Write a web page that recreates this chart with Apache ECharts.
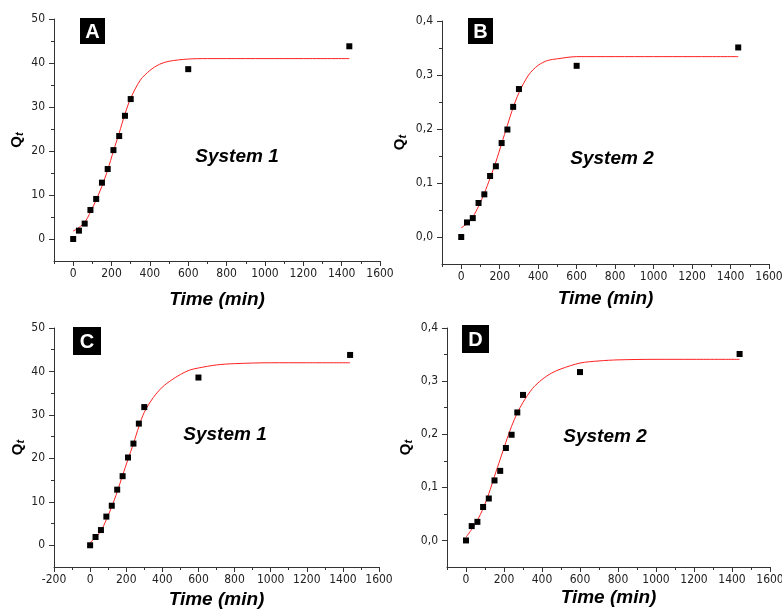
<!DOCTYPE html>
<html>
<head>
<meta charset="utf-8">
<script src="https://cdn.jsdelivr.net/npm/echarts@6/dist/echarts.min.js"></script>
<style>
  html, body { margin: 0; padding: 0; background: #fff; }
  #chart { width: 782px; height: 610px; }
</style>
</head>
<body>
<div id="chart"></div>
<script>
// measured points, both systems sampled at the same times (min)
const obsTime = [0, 30, 60, 90, 120, 150, 180, 210, 240, 270, 300, 600, 1440];
const obsSys1 = [0, 1.9, 3.5, 6.6, 9.1, 12.8, 15.9, 20.2, 23.4, 28.0, 31.8, 38.6, 43.8];
const obsSys2 = [0, 0.027, 0.035, 0.063, 0.079, 0.113, 0.131, 0.174, 0.199, 0.241, 0.274, 0.317, 0.351];

// fitted curves
const fitTimeA = [0, 30, 60, 90, 120, 150, 180, 210, 240, 270, 300, 350, 400, 450, 500, 600, 700, 800, 1000, 1200, 1440];
const fitA = [1.8, 2.6, 3.8, 6.1, 8.9, 12.0, 15.7, 20.0, 24.1, 28.4, 32.0, 36.1, 38.3, 39.7, 40.4, 40.9, 41.0, 41.0, 41.0, 41.0, 41.0];
const fitTimeB = [0, 30, 60, 90, 120, 150, 180, 210, 240, 270, 300, 350, 400, 450, 500, 600, 800, 1000, 1200, 1440];
const fitB = [0.017, 0.025, 0.037, 0.057, 0.081, 0.109, 0.139, 0.173, 0.207, 0.240, 0.267, 0.300, 0.318, 0.327, 0.330, 0.334, 0.334, 0.334, 0.334, 0.334];
const fitTimeC = [0, 30, 60, 90, 120, 150, 180, 210, 240, 270, 300, 350, 400, 450, 500, 550, 600, 700, 800, 1000, 1200, 1440];
const fitC = [0.6, 1.8, 3.3, 5.9, 8.9, 12.3, 16.1, 19.8, 23.4, 27.3, 30.6, 34.0, 36.4, 38.0, 39.3, 40.3, 40.8, 41.5, 41.8, 42.0, 42.0, 42.0];
const fitTimeD = [0, 30, 60, 90, 120, 150, 180, 210, 240, 270, 300, 350, 400, 450, 500, 600, 700, 800, 1000, 1200, 1440];
const fitD = [0.006, 0.021, 0.038, 0.060, 0.088, 0.121, 0.153, 0.185, 0.215, 0.240, 0.260, 0.286, 0.303, 0.315, 0.323, 0.334, 0.338, 0.340, 0.341, 0.341, 0.341];

// axis ticks
const xTicks = [0, 200, 400, 600, 800, 1000, 1200, 1400, 1600];
const xTicksC = [-200, 0, 200, 400, 600, 800, 1000, 1200, 1400, 1600];
const xMinor = [-100, 100, 300, 500, 700, 900, 1100, 1300, 1500];
const yTicks1 = [0, 10, 20, 30, 40, 50];
const yMinor1 = [5, 15, 25, 35, 45];
const yTicks2 = [0, 0.1, 0.2, 0.3, 0.4];
const yMinor2 = [0.05, 0.15, 0.25, 0.35];

const panelLetters = ["A", "B", "C", "D"];
const systemNames = ["System 1", "System 2", "System 1", "System 2"];

const tickFont = '"Liberation Sans Narrow", "DejaVu Sans Condensed", "Liberation Sans", sans-serif';
const boldFont = '"Liberation Sans", Arial, sans-serif';
const axisColor = "#333";
const plain = (v) => String(v);
const comma = (v) => v.toFixed(1).replace(".", ",");

const panels = [
  { grid: { left: 54, top: 19, width: 326, height: 242 }, xMin: -100, xLabels: xTicks,
    yMin: -5, yMax: 50, yLabels: yTicks1, yMinorTicks: yMinor1, fmt: plain,
    obs: obsSys1, fitT: fitTimeA, fit: fitA, xGap: 29, yGap: 29, box: [80, 18, 25, 26], sys: [237, 157] },
  { grid: { left: 442, top: 21, width: 327, height: 243 }, xMin: -100, xLabels: xTicks,
    yMin: -0.05, yMax: 0.4, yLabels: yTicks2, yMinorTicks: yMinor2, fmt: comma,
    obs: obsSys2, fitT: fitTimeB, fit: fitB, xGap: 25, yGap: 34, box: [468, 18, 25, 26], sys: [612, 159] },
  { grid: { left: 54, top: 328, width: 325, height: 239 }, xMin: -200, xLabels: xTicksC,
    yMin: -5, yMax: 50, yLabels: yTicks1, yMinorTicks: yMinor1, fmt: plain,
    obs: obsSys1, fitT: fitTimeC, fit: fitC, xGap: 23, yGap: 28, box: [73, 327, 28, 28], sys: [225, 435] },
  { grid: { left: 447, top: 328, width: 323, height: 239 }, xMin: -100, xLabels: xTicks,
    yMin: -0.05, yMax: 0.4, yLabels: yTicks2, yMinorTicks: yMinor2, fmt: comma,
    obs: obsSys2, fitT: fitTimeD, fit: fitD, xGap: 21, yGap: 33, box: [462, 325, 27, 28], sys: [605, 437] }
];

const grid = [], xAxis = [], yAxis = [], series = [], graphic = [];

panels.forEach((p, i) => {
  grid.push(Object.assign({ outerBoundsMode: "none", containLabel: false }, p.grid));

  // main x axis: line, labelled ticks, name
  xAxis.push({
    type: "value", gridIndex: i, min: p.xMin, max: 1600, position: "bottom",
    axisLine: { onZero: false, lineStyle: { color: axisColor, width: 1 } },
    axisTick: { show: true, length: 5, customValues: p.xLabels, lineStyle: { color: axisColor } },
    axisLabel: { customValues: p.xLabels, margin: 7, color: "#222", fontSize: 12, fontFamily: tickFont, formatter: plain },
    splitLine: { show: false },
    name: "Time (min)", nameLocation: "middle", nameGap: p.xGap, nameMoveOverlap: false,
    nameTextStyle: { fontFamily: boldFont, fontSize: 19, fontWeight: "bold", fontStyle: "italic", color: "#000" }
  });
  // minor x ticks
  xAxis.push({
    type: "value", gridIndex: i, min: p.xMin, max: 1600, position: "bottom",
    axisLine: { show: false, onZero: false },
    axisTick: { show: true, length: 3, customValues: xMinor, lineStyle: { color: axisColor } },
    axisLabel: { show: false }, splitLine: { show: false }
  });

  yAxis.push({
    type: "value", gridIndex: i, min: p.yMin, max: p.yMax, position: "left",
    axisLine: { show: true, onZero: false, lineStyle: { color: axisColor, width: 1 } },
    axisTick: { show: true, length: 5, customValues: p.yLabels, lineStyle: { color: axisColor } },
    axisLabel: { customValues: p.yLabels, margin: 9, color: "#222", fontSize: 12, fontFamily: tickFont, formatter: p.fmt },
    splitLine: { show: false },
    name: "{q|Q}{t|t}", nameLocation: "middle", nameGap: p.yGap, nameMoveOverlap: false,
    nameTextStyle: {
      color: "#000",
      rich: {
        q: { fontFamily: boldFont, fontSize: 15, fontWeight: "bold", color: "#000" },
        t: { fontFamily: boldFont, fontSize: 11, fontWeight: "bold", fontStyle: "italic", color: "#000", padding: [5, 0, 0, 0] }
      }
    }
  });
  // minor y ticks
  yAxis.push({
    type: "value", gridIndex: i, min: p.yMin, max: p.yMax, position: "left",
    axisLine: { show: false, onZero: false },
    axisTick: { show: true, length: 3, customValues: p.yMinorTicks, lineStyle: { color: axisColor } },
    axisLabel: { show: false }, splitLine: { show: false }
  });

  series.push({
    type: "line", xAxisIndex: 2 * i, yAxisIndex: 2 * i, smooth: 0.3, showSymbol: false, z: 2,
    lineStyle: { color: "#ff2020", width: 1 },
    data: p.fitT.map((t, k) => [t, p.fit[k]])
  });
  series.push({
    type: "scatter", xAxisIndex: 2 * i, yAxisIndex: 2 * i, symbol: "rect", symbolSize: 6, z: 3,
    itemStyle: { color: "#000", opacity: 1 },
    data: obsTime.map((t, k) => [t, p.obs[k]])
  });

  const [bx, by, bw, bh] = p.box;
  graphic.push({ type: "rect", shape: { x: bx, y: by, width: bw, height: bh }, style: { fill: "#000" }, z: 10 });
  graphic.push({
    type: "text", x: bx + bw / 2, y: by + bh / 2 + 1, z: 11,
    style: { text: panelLetters[i], fill: "#fff", font: 'bold 20px "Liberation Sans", Arial, sans-serif',
             textAlign: "center", textVerticalAlign: "middle", align: "center", verticalAlign: "middle" }
  });
  graphic.push({
    type: "text", x: p.sys[0], y: p.sys[1], z: 11,
    style: { text: systemNames[i], fill: "#000", font: 'italic bold 19px "Liberation Sans", Arial, sans-serif',
             textAlign: "center", textVerticalAlign: "middle", align: "center", verticalAlign: "middle" }
  });
});

const chart = echarts.init(document.getElementById("chart"), null, { renderer: "canvas" });
chart.setOption({
  animation: false,
  backgroundColor: "#fff",
  grid, xAxis, yAxis, series, graphic
});
</script>
</body>
</html>
